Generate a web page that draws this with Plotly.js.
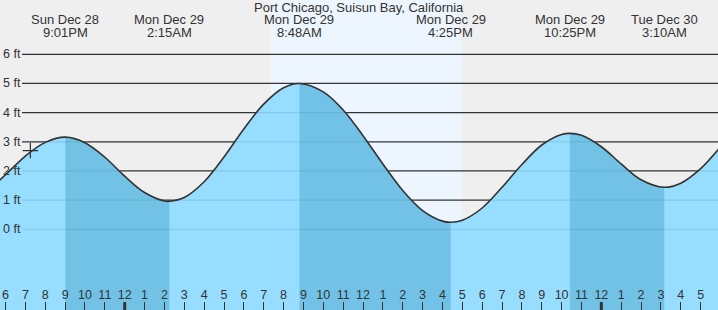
<!DOCTYPE html>
<html>
<head>
<meta charset="utf-8">
<script src="https://cdn.plot.ly/plotly-3.0.1.min.js"></script>
<style>html,body{margin:0;padding:0;background:#efefef;}#chart{width:718px;height:310px;}</style>
</head>
<body>
<div id="chart"></div>
<script>
// ---- data ----
var chartTitle = "Port Chicago, Suisun Bay, California";

// hourly readings of the tide curve (ft)
var tideTimes = [
  "2025-12-28 17:00","2025-12-28 18:00","2025-12-28 19:00","2025-12-28 20:00",
  "2025-12-28 22:00","2025-12-28 23:00",
  "2025-12-29 00:00","2025-12-29 01:00","2025-12-29 02:00","2025-12-29 03:00",
  "2025-12-29 04:00","2025-12-29 05:00","2025-12-29 06:00","2025-12-29 07:00",
  "2025-12-29 08:00","2025-12-29 10:00","2025-12-29 11:00","2025-12-29 12:00",
  "2025-12-29 13:00","2025-12-29 14:00","2025-12-29 15:00","2025-12-29 16:00",
  "2025-12-29 17:00","2025-12-29 18:00","2025-12-29 19:00","2025-12-29 20:00",
  "2025-12-29 21:00","2025-12-29 22:00","2025-12-29 23:00",
  "2025-12-30 00:00","2025-12-30 01:00","2025-12-30 02:00","2025-12-30 04:00",
  "2025-12-30 05:00","2025-12-30 06:00"
];
var tideHeights = [
  1.23, 1.87, 2.51, 2.98,
  2.97, 2.47,
  1.82, 1.26, 0.97, 1.09,
  1.63, 2.48, 3.44, 4.29,
  4.85, 4.71, 4.09, 3.21,
  2.24, 1.33, 0.64, 0.28,
  0.31, 0.73, 1.44, 2.22,
  2.89, 3.25, 3.22,
  2.83, 2.24, 1.70, 1.58,
  2.08, 2.83
];

// high / low extremes
var extremeTimes = ["2025-12-28 21:01","2025-12-29 02:15","2025-12-29 08:48",
                    "2025-12-29 16:25","2025-12-29 22:25","2025-12-30 03:10"];
var extremeHeights = [3.16, 0.96, 5.00, 0.24, 3.29, 1.44];
var extremeTypes = ["H","L","H","L","H","L"];
var extremeDayLabels = ["Sun Dec 28","Mon Dec 29","Mon Dec 29","Mon Dec 29","Mon Dec 29","Tue Dec 30"];
var extremeTimeLabels = ["9:01PM","2:15AM","8:48AM","4:25PM","10:25PM","3:10AM"];

// current time marker
var nowTime = ["2025-12-28 19:15"];
var nowHeight = [2.70];

// daylight
var sunrise = "2025-12-29 07:21";
var sunset = "2025-12-29 16:57";

// axes
var xStart = "2025-12-28 17:43:15";
var xEnd = "2025-12-30 05:52:30";
var firstTick = "2025-12-28 18:00";
var hourLabels = ["6","7","8","9","10","11","12","1","2","3","4","5","6","7","8","9","10","11",
                  "12","1","2","3","4","5","6","7","8","9","10","11","12","1","2","3","4","5"];
var midnights = ["2025-12-29 00:00","2025-12-30 00:00"];
var yTickVals = [0,1,2,3,4,5,6];
var yTickLabels = ["0 ft","1 ft","2 ft","3 ft","4 ft","5 ft","6 ft"];
var yMin = -2.767, yMax = 7.861;

// ---- build ----
function toMs(s){ return new Date(s.replace(" ","T")).getTime(); }
function fmt(ms){
  var d = new Date(ms);
  function p(n){return (n<10?"0":"")+n;}
  return d.getFullYear()+"-"+p(d.getMonth()+1)+"-"+p(d.getDate())+" "+p(d.getHours())+":"+p(d.getMinutes());
}
var pts = [];
for (var i=0;i<tideTimes.length;i++) pts.push({t:toMs(tideTimes[i]), s:tideTimes[i], v:tideHeights[i]});
for (var j=0;j<extremeTimes.length;j++) pts.push({t:toMs(extremeTimes[j]), s:extremeTimes[j], v:extremeHeights[j]});
pts.sort(function(a,b){return a.t-b.t;});
var allX = pts.map(function(p){return p.s;});
var allY = pts.map(function(p){return p.v;});
var base = -3.5;

var fontFam = "Liberation Sans, Arial, sans-serif";
var txtCol = "#333333";

var traces = [];
traces.push({x:allX, y:allX.map(function(){return base;}), mode:"lines", line:{width:0}, hoverinfo:"skip", showlegend:false});
traces.push({x:allX, y:allY, mode:"lines", line:{width:0, shape:"spline"}, fill:"tonexty",
             fillcolor:"rgba(140,218,255,0.9)", hoverinfo:"skip", showlegend:false});

// falling-tide segments (high -> next low) darker
for (var k=0;k<extremeTimes.length-1;k++){
  if (extremeTypes[k]!=="H") continue;
  var t0 = toMs(extremeTimes[k]), t1 = toMs(extremeTimes[k+1]);
  var sx=[], sy=[];
  pts.forEach(function(p){ if (p.t>=t0 && p.t<=t1){ sx.push(p.s); sy.push(p.v);} });
  traces.push({x:sx, y:sx.map(function(){return base;}), mode:"lines", line:{width:0}, hoverinfo:"skip", showlegend:false});
  traces.push({x:sx, y:sy, mode:"lines", line:{width:0, shape:"spline"}, fill:"tonexty",
               fillcolor:"rgba(33,133,174,0.3)", hoverinfo:"skip", showlegend:false});
}
// the curve line
traces.push({x:allX, y:allY, mode:"lines", line:{color:"#333333", width:1.6, shape:"spline"}, hoverinfo:"skip", showlegend:false});
// now marker
traces.push({x:nowTime, y:nowHeight, mode:"markers", marker:{symbol:"cross-thin", size:11, line:{color:"#333333", width:1.2}},
             hoverinfo:"skip", showlegend:false});

// ticks
var tickVals = [];
var ft = toMs(firstTick);
for (var h=0; h<hourLabels.length; h++) tickVals.push(fmt(ft + h*3600000));

var shapes = [];
shapes.push({type:"rect", xref:"x", yref:"paper", x0:sunrise, x1:sunset, y0:0, y1:1,
             fillcolor:"#edf6fe", line:{width:0}, layer:"below"});
yTickVals.forEach(function(v){
  shapes.push({type:"line", xref:"paper", yref:"y", x0:22/718, x1:1, y0:v, y1:v,
               line:{color:"#333333", width:1.2}, layer:"below"});
});
midnights.forEach(function(m){
  shapes.push({type:"line", xref:"x", yref:"paper", x0:m, x1:m, y0:0, y1:8/310,
               line:{color:"#333333", width:3}, layer:"above"});
});

var annotations = [];
annotations.push({text:chartTitle, xref:"paper", yref:"paper", x:0.5, y:1, yanchor:"top", yshift:2,
                  showarrow:false, font:{family:fontFam, size:13, color:txtCol}});
for (var e=0;e<extremeTimes.length;e++){
  annotations.push({text:extremeDayLabels[e], xref:"x", yref:"paper", x:extremeTimes[e], y:1-20/310,
                    yanchor:"middle", showarrow:false, font:{family:fontFam, size:13, color:txtCol}});
  annotations.push({text:extremeTimeLabels[e], xref:"x", yref:"paper", x:extremeTimes[e], y:1-32.5/310,
                    yanchor:"middle", showarrow:false, font:{family:fontFam, size:13, color:txtCol}});
}
yTickVals.forEach(function(v,i){
  annotations.push({text:yTickLabels[i], xref:"paper", yref:"y", x:0, y:v, xanchor:"left", yanchor:"middle",
                    xshift:1, showarrow:false, font:{family:fontFam, size:12.5, color:txtCol}});
});

var layout = {
  width:718, height:310,
  margin:{l:0,r:0,t:0,b:0,pad:0},
  paper_bgcolor:"#efefef", plot_bgcolor:"#efefef",
  showlegend:false,
  xaxis:{type:"date", range:[xStart,xEnd], showgrid:false, zeroline:false, showline:false,
         tickmode:"array", tickvals:tickVals, ticktext:hourLabels,
         ticks:"inside", ticklen:8, tickwidth:1, tickcolor:"#333333",
         ticklabelposition:"inside", tickfont:{family:fontFam, size:12.5, color:txtCol}, fixedrange:true},
  yaxis:{range:[yMin,yMax], showgrid:false, zeroline:false, showline:false, showticklabels:false, ticks:"", fixedrange:true},
  shapes:shapes,
  annotations:annotations
};
Plotly.newPlot("chart", traces, layout, {displayModeBar:false, staticPlot:true});
</script>
</body>
</html>
